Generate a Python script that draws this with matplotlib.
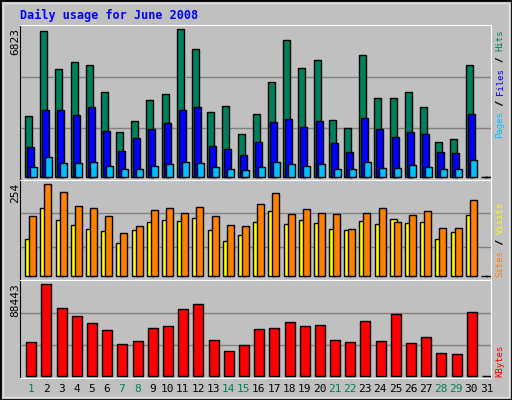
import matplotlib
matplotlib.use("Agg")
import matplotlib.pyplot as plt
from matplotlib.patches import Rectangle

days = list(range(1, 32))
weekends = [1, 7, 8, 14, 15, 21, 22, 28, 29]

hits = [2794, 6731, 4971, 5295, 5156, 3906, 2053, 2563, 3535, 3813, 6823, 5897, 2980, 3257, 1961,
        2887, 4369, 6314, 5017, 5388, 2609, 2238, 5619, 3628, 3628, 3906, 3211, 1590, 1729, 5156, 0]
files = [1359, 3072, 3072, 2841, 3211, 2100, 1173, 1775, 2192, 2470, 3072, 3211, 1405, 1266, 988,
         1590, 2516, 2655, 2300, 2563, 1544, 1127, 2702, 2192, 1822, 2053, 1961, 1127, 1081, 2887, 0]
pages = [432, 896, 618, 618, 664, 479, 340, 340, 479, 571, 664, 618, 432, 340, 293,
         432, 664, 571, 479, 571, 340, 340, 664, 386, 386, 525, 432, 340, 340, 757, 0]
visits = [166, 254, 232, 193, 188, 166, 119, 138, 182, 188, 174, 190, 166, 141, 138,
          201, 229, 171, 185, 174, 171, 130, 174, 188, 149, 168, 179, 132, 132, 210, 0]
sites = [102, 188, 155, 141, 130, 124, 91, 127, 149, 155, 152, 160, 127, 97, 113,
         149, 179, 144, 155, 146, 130, 127, 152, 144, 157, 146, 149, 102, 121, 168, 0]
kbytes = [32280, 88443, 65206, 57458, 50680, 43901, 30343, 33248, 45838, 47774, 64237, 69079, 34217, 23564, 29375,
          44869, 45838, 51648, 47774, 48742, 34217, 32280, 52617, 33248, 59395, 31312, 37122, 21628, 20659, 61332, 0]

W, H = 512, 400
fig = plt.figure(figsize=(W / 100, H / 100), dpi=100)
fig.patch.set_facecolor("#C0C0C0")
mono = "DejaVu Sans Mono"

# outer bevel
fig.patches.append(Rectangle((0, 0), 1, 1, transform=fig.transFigure, fill=False, ec="black", lw=2))
fig.patches.append(Rectangle((3 / W, 3 / H), 1 - 6 / W, 1 - 6 / H, transform=fig.transFigure,
                             fill=False, ec="#E0E0E0", lw=1))

def axes_px(y0, y1):
    return fig.add_axes([20 / W, 1 - y1 / H, 471 / W, (y1 - y0) / H])

def setup(ax, lo, hi):
    ax.set_facecolor("#C0C0C0")
    ax.set_xlim(0.28, 31.28)
    ax.set_ylim(lo, hi)
    for f in (1 / 3, 2 / 3):
        ax.axhline(lo + f * (hi - lo), color="#808080", lw=1, zorder=0)
    ax.set_xticks([])
    ax.set_yticks([])
    for s in ax.spines.values():
        s.set_color("black")
    ax.spines["top"].set_color("white")
    ax.spines["bottom"].set_color("white")
    ax.spines["right"].set_color("white")

u = 15.19  # px per day
w = 7 / u
kw = dict(ec="black", lw=1, align="edge")

ax1 = axes_px(25, 180)
setup(ax1, -153, 7022)
ax1.bar([d - 6 / u for d in days], hits, w, color="#00805C", **kw)
ax1.bar([d - 4 / u for d in days], files, w, color="#0000FF", **kw)
ax1.bar([d - 1.3 / u for d in days], pages, w, color="#00C0FF", **kw)

ax2 = axes_px(180, 280)
setup(ax2, -10.2, 265.9)
ax2.bar([d - 5.7 / u for d in days], sites, w, color="#FFFF00", **kw)
ax2.bar([d - 1.7 / u for d in days], visits, w, color="#FF8000", **kw)

ax3 = axes_px(280, 378)
setup(ax3, -2225, 92604)
ax3.bar([d - 4.7 / u for d in days], kbytes, 10 / u, color="#FF0000", **kw)

fig.text(20 / W, 1 - 15 / H, "Daily usage for June 2008", color="#0000FF", family=mono,
         weight="bold", fontsize=8.5, va="center")
for y, t in [(28, "6823"), (183, "254"), (283, "88443")]:
    fig.text(15 / W, 1 - y / H, t, rotation=90, family=mono, fontsize=8, ha="center", va="top")

rfs = 6.5
step = rfs * 100 / 72 * 0.602  # px per monospace char

def right_label(y_bottom, parts):
    y = y_bottom
    for t, c in parts:
        if t.strip():
            fig.text(500 / W, 1 - y / H, t, rotation=90, color=c, family=mono, fontsize=rfs,
                     ha="center", va="bottom")
        y -= len(t) * step

right_label(138, [("Pages", "#00C0FF"), (" / ", "black"), ("Files", "#0000FF"), (" / ", "black"), ("Hits", "#00805C")])
right_label(277, [("Sites", "#FF8000"), (" / ", "black"), ("Visits", "#FFFF00")])
right_label(377, [("KBytes", "#FF0000")])
for yb, n in [(138 - 5 * step, 3), (138 - 13 * step, 3), (277 - 5 * step, 3)]:
    fig.text(500 / W, 1 - (yb - 1.5 * step) / H, "/", rotation=90, family=mono, fontsize=rfs,
             ha="center", va="center")

for d in days:
    x = (20 + (d - 0.28) * u) / W
    fig.text(x, 1 - 389 / H, str(d), color="#00805C" if d in weekends else "black",
             family=mono, fontsize=8, ha="center", va="center")

fig.savefig("out.png", dpi=100, facecolor=fig.get_facecolor())
